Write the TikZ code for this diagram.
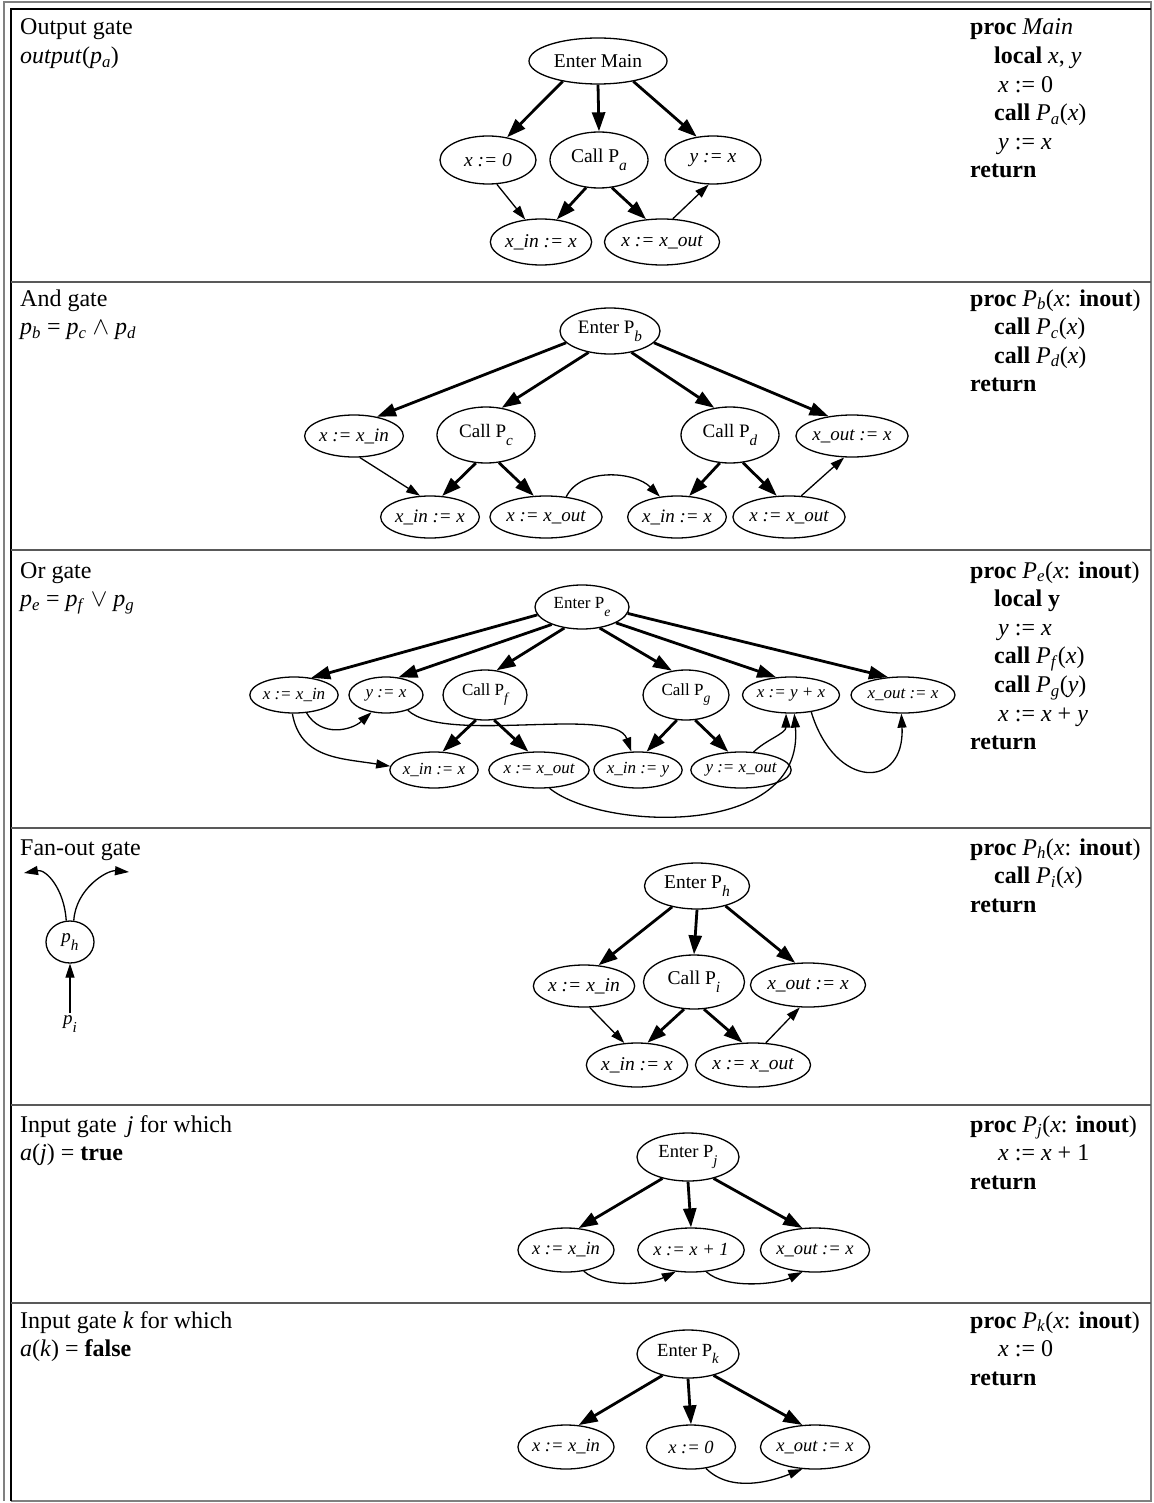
\documentclass[tikz,border=0pt]{standalone}
\usepackage{fontspec}
\setmainfont{Liberation Serif}
\usepackage{graphicx}
\usetikzlibrary{shapes.geometric,arrows.meta}

\newcommand{\lsub}[1]{\raisebox{-0.9ex}{\scalebox{0.8}{\itshape #1}}}
\newcommand{\tsub}[1]{\textsubscript{\textit{#1}}}

\begin{document}
\begin{tikzpicture}[x=1pt,y=-1pt,
    nd/.style 2 args={ellipse,draw,line width=1.3pt,inner sep=0pt,minimum width=#1pt,minimum height=#2pt},
    heavy/.style={-{Triangle[length=19pt,width=13pt]},line width=2.8pt},
    lite/.style={-{Triangle[length=14pt,width=9pt]},line width=1.3pt},
    txt/.style={anchor=base west,inner sep=0pt,font=\fontsize{24}{28}\selectfont}]
    \useasboundingbox (0,0) rectangle (1153,1503);
    % frame and rows
    \draw[gray,line width=1.5pt] (4,1501) -- (4,2) -- (1151,2) -- (1151,1501) -- (11,1501);
    \draw[line width=1.5pt] (11,1501) -- (11,9) -- (1151,9);
    \foreach \y in {282,550,828,1105,1303}
        \draw[gray!70!black,line width=1.5pt] (11,\y) -- (1151,\y);

    % output gate
    \node[txt] (t1a) at (20,35) {Output gate};
    \node[txt] (t1b) at (20,63.6) {\textit{output}(\textit{p}\tsub{a})};
    \node[txt] (c1a) at (970,35) {\textbf{proc} \textit{Main}};
    \node[txt] (c1b) at (994,63.6) {\textbf{local} \textit{x}, \textit{y}};
    \node[txt] (c1c) at (998,92.2) {\textit{x} := 0};
    \node[txt] (c1d) at (994,120.8) {\textbf{call} \textit{P}\tsub{a}(\textit{x})};
    \node[txt] (c1e) at (998,149.4) {\textit{y} := \textit{x}};
    \node[txt] (c1f) at (970,178) {\textbf{return}};
    \begin{scope}[every node/.append style={font=\fontsize{19.5}{22}\selectfont}]
        \node[nd={138}{46}] (m0) at (598,61) {Enter Main};
        \node[nd={96}{48}] (m1) at (488,160) {\itshape x := 0};
        \node[nd={98}{56}] (m2) at (599,160) {Call P\lsub{a}};
        \node[nd={96}{48}] (m3) at (713,160) {\itshape y := x};
        \node[nd={90}{46}] (m4) at (541,242) {\itshape x\_in := x};
        \node[nd={104}{46}] (m5) at (662,242) {\itshape x := x\_out};
    \end{scope}
    \draw[heavy] (m0.-150) -- (m1.50);
    \draw[heavy] (m0.-90) -- (m2.90);
    \draw[heavy] (m0.-30) -- (m3.125);
    \draw[lite] (m1.-70) -- (m4.125);
    \draw[heavy] (m2.-115) -- (m4.55);
    \draw[heavy] (m2.-65) -- (m5.125);
    \draw[lite] (m5.65) -- (m3.-100);

    % and gate
    \node[txt] (t2a) at (20,306) {And gate};
    \node[txt] (t2b) at (20,334.6) {\textit{p}\tsub{b} = \textit{p}\tsub{c} $\wedge$ \textit{p}\tsub{d}};
    \node[txt] (c2a) at (970,306) {\textbf{proc} \textit{P}\tsub{b}(\textit{x}: \textbf{inout})};
    \node[txt] (c2b) at (994,334.6) {\textbf{call} \textit{P}\tsub{c}(\textit{x})};
    \node[txt] (c2c) at (994,363.2) {\textbf{call} \textit{P}\tsub{d}(\textit{x})};
    \node[txt] (c2d) at (970,391.8) {\textbf{return}};
    \begin{scope}[every node/.append style={font=\fontsize{19}{22}\selectfont}]
        \node[nd={100}{46}] (b0) at (610,331) {Enter P\lsub{b}};
        \node[nd={94}{42}] (b1) at (354,436) {\itshape x := x\_in};
        \node[nd={98}{56}] (b2) at (486,435) {Call P\lsub{c}};
        \node[nd={98}{56}] (b3) at (730,435) {Call P\lsub{d}};
        \node[nd={97}{42}] (b4) at (852,436) {\itshape x\_out := x};
        \node[nd={94}{42}] (b5) at (430,517) {\itshape x\_in := x};
        \node[nd={98}{42}] (b6) at (546,517) {\itshape x := x\_out};
        \node[nd={92}{42}] (b7) at (677,517) {\itshape x\_in := x};
        \node[nd={96}{42}] (b8) at (789,517) {\itshape x := x\_out};
    \end{scope}
    \draw[heavy] (b0.-165) -- (b1.40);
    \draw[heavy] (b0.-135) -- (b2.60);
    \draw[heavy] (b0.-45) -- (b3.120);
    \draw[heavy] (b0.-15) -- (b4.140);
    \draw[lite] (b1.-75) -- (b5.115);
    \draw[heavy] (b2.-110) -- (b5.60);
    \draw[heavy] (b2.-65) -- (b6.120);
    \draw[lite] (b6.45) .. controls +(15,-30) and +(-25,-25) .. (b7.130);
    \draw[heavy] (b3.-110) -- (b7.60);
    \draw[heavy] (b3.-65) -- (b8.120);
    \draw[lite] (b8.60) -- (b4.-110);

    % or gate
    \node[txt] (t3a) at (20,578) {Or gate};
    \node[txt] (t3b) at (20,606.6) {\textit{p}\tsub{e} = \textit{p}\tsub{f} $\vee$ \textit{p}\tsub{g}};
    \node[txt] (c3a) at (970,578) {\textbf{proc} \textit{P}\tsub{e}(\textit{x}: \textbf{inout})};
    \node[txt] (c3b) at (994,606.6) {\textbf{local y}};
    \node[txt] (c3c) at (998,635.2) {\textit{y} := \textit{x}};
    \node[txt] (c3d) at (994,663.8) {\textbf{call} \textit{P}\tsub{f}(\textit{x})};
    \node[txt] (c3e) at (994,692.4) {\textbf{call} \textit{P}\tsub{g}(\textit{y})};
    \node[txt] (c3f) at (998,721) {\textit{x} := \textit{x} + \textit{y}};
    \node[txt] (c3g) at (970,749.6) {\textbf{return}};
    \begin{scope}[every node/.append style={font=\fontsize{17}{19}\selectfont}]
        \node[nd={94}{44}] (e0) at (582,607) {Enter P\lsub{e}};
        \node[nd={82}{36}] (e1) at (294,695) {\itshape x := x\_in};
        \node[nd={74}{36}] (e2) at (386,695) {\itshape y := x};
        \node[nd={84}{50}] (e3) at (485,695) {Call P\lsub{f}};
        \node[nd={86}{50}] (e4) at (686,695) {Call P\lsub{g}};
        \node[nd={97}{36}] (e5) at (791,695) {\itshape x := y + x};
        \node[nd={104}{36}] (e6) at (903,695) {\itshape x\_out := x};
        \node[nd={77}{36}] (e7) at (434,770) {\itshape x\_in := x};
        \node[nd={88}{36}] (e8) at (539,770) {\itshape x := x\_out};
        \node[nd={81}{36}] (e9) at (638,770) {\itshape x\_in := y};
        \node[nd={90}{36}] (e10) at (741,770) {\itshape y := x\_out};
    \end{scope}
    \draw[heavy] (e0.-170) -- (e1.45);
    \draw[heavy] (e0.-150) -- (e2.55);
    \draw[heavy] (e0.-130) -- (e3.65);
    \draw[heavy] (e0.-50) -- (e4.120);
    \draw[heavy] (e0.-25) -- (e5.130);
    \draw[heavy] (e0.-8) -- (e6.130);
    \draw[lite] (e1.-55) .. controls +(15,25) and +(-20,18) .. (e2.-130);
    \draw[lite] (e1.-95) .. controls +(8,45) and +(-50,-8) .. (e7.175);
    \draw[lite] (e2.-35) .. controls (445,745) and (615,705) .. (e9.110);
    \draw[heavy] (e3.-110) -- (e7.65);
    \draw[heavy] (e3.-70) -- (e8.120);
    \draw[heavy] (e4.-110) -- (e9.65);
    \draw[heavy] (e4.-70) -- (e10.125);
    \draw[lite] (e10.55) .. controls +(12,-12) and +(0,20) .. (e5.-105);
    \draw[lite] (e8.-60) .. controls (600,830) and (805,840) .. (e5.-80);
    \draw[lite] (e5.-40) .. controls (835,790) and (905,790) .. (e6.-95);

    % fan-out gate
    \node[txt] (t4a) at (20,855) {Fan-out gate};
    \node[txt] (c4a) at (970,855) {\textbf{proc} \textit{P}\tsub{h}(\textit{x}: \textbf{inout})};
    \node[txt] (c4b) at (994,883.6) {\textbf{call} \textit{P}\tsub{i}(\textit{x})};
    \node[txt] (c4c) at (970,912.2) {\textbf{return}};
    \node[nd={48}{42},font=\fontsize{19}{22}\selectfont] (f0) at (70,942) {\itshape p\lsub{h}};
    \node[inner sep=2pt,font=\fontsize{19}{22}\selectfont] (fi) at (70,1024) {\itshape p\lsub{i}};
    \coordinate (fl) at (24,873);
    \coordinate (fr) at (129,872);
    \draw[lite] (f0.100) .. controls +(-2,-32) and +(22,-4) .. (fl);
    \draw[lite] (f0.80) .. controls +(2,-32) and +(-22,-2) .. (fr);
    \draw[lite] (fi) -- (f0);
    \begin{scope}[every node/.append style={font=\fontsize{19.5}{22}\selectfont}]
        \node[nd={105}{46}] (h0) at (697,886) {Enter P\lsub{h}};
        \node[nd={95}{42}] (h1) at (584,986) {\itshape x := x\_in};
        \node[nd={101}{54}] (h2) at (694,982) {Call P\lsub{i}};
        \node[nd={99}{44}] (h3) at (808,985) {\itshape x\_out := x};
        \node[nd={92}{44}] (h4) at (637,1065) {\itshape x\_in := x};
        \node[nd={100}{44}] (h5) at (753,1065) {\itshape x := x\_out};
    \end{scope}
    \draw[heavy] (h0.-140) -- (h1.55);
    \draw[heavy] (h0.-90) -- (h2.90);
    \draw[heavy] (h0.-35) -- (h3.120);
    \draw[lite] (h1.-75) -- (h4.120);
    \draw[heavy] (h2.-110) -- (h4.65);
    \draw[heavy] (h2.-70) -- (h5.115);
    \draw[lite] (h5.60) -- (h3.-110);

    % input gate j
    \node[txt] (t5a) at (20,1132) {Input gate \,\textit{j} for which};
    \node[txt] (t5b) at (20,1160.6) {\textit{a}(\textit{j}) = \textbf{true}};
    \node[txt] (c5a) at (970,1132) {\textbf{proc} \textit{P}\tsub{j}(\textit{x}: \textbf{inout})};
    \node[txt] (c5b) at (998,1160.6) {\textit{x} := \textit{x} + 1};
    \node[txt] (c5c) at (970,1189.2) {\textbf{return}};
    \begin{scope}[every node/.append style={font=\fontsize{18.5}{21}\selectfont}]
        \node[nd={102}{48}] (j0) at (688,1157) {Enter P\lsub{j}};
        \node[nd={89}{44}] (j1) at (566,1250) {\itshape x := x\_in};
        \node[nd={102}{44}] (j2) at (691,1250) {\itshape x := x + 1};
        \node[nd={96}{44}] (j3) at (815,1250) {\itshape x\_out := x};
    \end{scope}
    \draw[heavy] (j0.-140) -- (j1.60);
    \draw[heavy] (j0.-90) -- (j2.90);
    \draw[heavy] (j0.-40) -- (j3.120);
    \draw[lite] (j1.-50) .. controls +(20,18) and +(-25,12) .. (j2.-125);
    \draw[lite] (j2.-55) .. controls +(20,18) and +(-25,12) .. (j3.-120);

    % input gate k
    \node[txt] (t6a) at (20,1328) {Input gate \textit{k} for which};
    \node[txt] (t6b) at (20,1356.6) {\textit{a}(\textit{k}) = \textbf{false}};
    \node[txt] (c6a) at (970,1328) {\textbf{proc} \textit{P}\tsub{k}(\textit{x}: \textbf{inout})};
    \node[txt] (c6b) at (998,1356.6) {\textit{x} := 0};
    \node[txt] (c6c) at (970,1385.2) {\textbf{return}};
    \begin{scope}[every node/.append style={font=\fontsize{18.5}{21}\selectfont}]
        \node[nd={102}{48}] (k0) at (688,1354) {Enter P\lsub{k}};
        \node[nd={89}{44}] (k1) at (566,1447) {\itshape x := x\_in};
        \node[nd={89}{44}] (k2) at (691,1447) {\itshape x := 0};
        \node[nd={96}{44}] (k3) at (815,1447) {\itshape x\_out := x};
    \end{scope}
    \draw[heavy] (k0.-140) -- (k1.60);
    \draw[heavy] (k0.-90) -- (k2.90);
    \draw[heavy] (k0.-40) -- (k3.120);
    \draw[lite] (k2.-55) .. controls +(25,25) and +(-30,12) .. (k3.-120);
\end{tikzpicture}
\end{document}
